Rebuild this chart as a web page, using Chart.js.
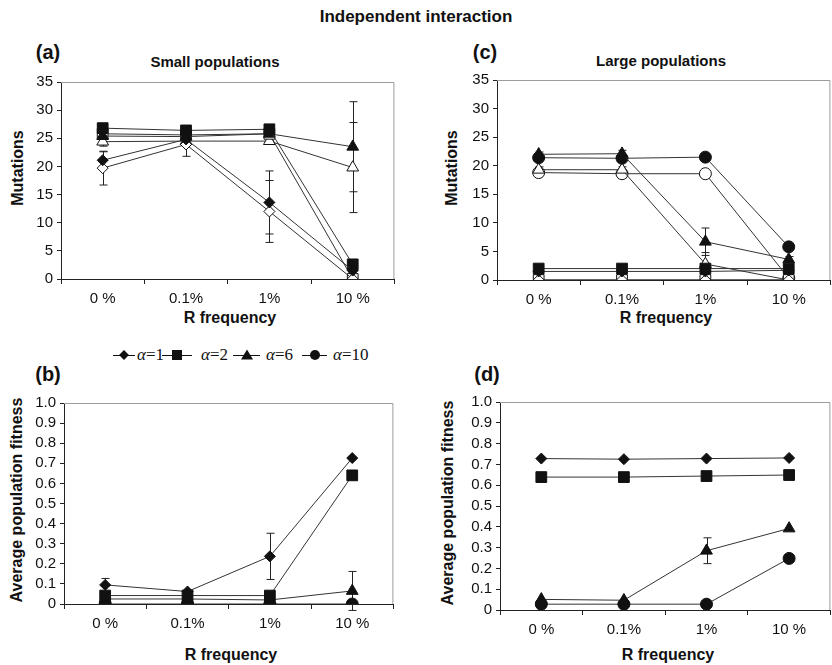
<!DOCTYPE html>
<html>
<head>
<meta charset="utf-8">
<script src="https://cdn.jsdelivr.net/npm/chart.js@4.4.1/dist/chart.umd.min.js"></script>
<style>
body{margin:0;width:832px;height:665px;overflow:hidden;background:#fff;position:relative;font-family:"Liberation Sans",Arial,sans-serif;color:#111}
canvas{position:absolute}
.t{position:absolute;white-space:nowrap;font-weight:bold;transform:translate(-50%,-50%)}
.v{transform:translate(-50%,-50%) rotate(-90deg)}
.lg{position:absolute;top:346px;height:18px;font:17px "Liberation Serif",serif;white-space:nowrap}
.ln{position:absolute;top:9px;height:1px;background:#111}
.mk{position:absolute;left:50%;top:0;background:#111}
.mk.d{width:7px;height:7px;transform:translate(-50%,-50%) rotate(45deg)}
.mk.s{width:10px;height:10px;transform:translate(-50%,-50%)}
.mk.c{width:10px;height:10px;border-radius:50%;transform:translate(-50%,-50%)}
.mk.tr{width:0;height:0;background:none;border-left:6px solid transparent;border-right:6px solid transparent;border-bottom:10px solid #111;transform:translate(-50%,-55%)}
.lt{position:absolute;top:0;line-height:18px}
</style>
</head>
<body>
<div class="t" style="left:416px;top:17px;font-size:17px">Independent interaction</div>

<div class="t" style="left:48px;top:52px;font-size:20px">(a)</div>
<div class="t" style="left:485px;top:52px;font-size:20px">(c)</div>
<div class="t" style="left:48px;top:374px;font-size:20px">(b)</div>
<div class="t" style="left:487px;top:374px;font-size:20px">(d)</div>

<div class="t" style="left:215px;top:61px;font-size:15px">Small populations</div>
<div class="t" style="left:661px;top:60px;font-size:15px">Large populations</div>

<div class="t v" style="left:18px;top:168px;font-size:16px">Mutations</div>
<div class="t v" style="left:452px;top:168px;font-size:16px">Mutations</div>
<div class="t v" style="left:17px;top:500px;font-size:16px">Average population fitness</div>
<div class="t v" style="left:448px;top:503px;font-size:16px">Average population fitness</div>

<div class="t" style="left:230px;top:318px;font-size:16px">R frequency</div>
<div class="t" style="left:666px;top:318px;font-size:16px">R frequency</div>
<div class="t" style="left:231px;top:655px;font-size:16px">R frequency</div>
<div class="t" style="left:668px;top:655px;font-size:16px">R frequency</div>

<canvas id="chartA"></canvas>
<canvas id="chartC"></canvas>
<canvas id="chartB"></canvas>
<canvas id="chartD"></canvas>

<script>
// категории по оси X
const categories = ['0 %', '0.1%', '1%', '10 %'];
const alphaLabels = ['α=1', 'α=2', 'α=6', 'α=10'];

// (a) малые популяции, число мутаций (закрашенные и пустые маркеры)
const smallMutA1 = [21.1, 24.8, 13.6, 1.5];
const smallMutA1Err = [1.5, 0.8, 5.6, 0];
const smallMutA1Open = [19.7, 23.9, 12.0, 0];
const smallMutA1OpenErr = [3.0, 2.1, 5.5, 0];
const smallMutA2 = [26.8, 26.4, 26.6, 2.6];
const smallMutA2Open = [25.8, 25.6, 25.8, 0];
const smallMutA6 = [25.4, 25.3, 25.8, 23.5];
const smallMutA6Err = [0.6, 0.5, 0.5, 8.0];
const smallMutA6Open = [24.4, 24.5, 24.5, 19.8];
const smallMutA6OpenErr = [0.8, 0.6, 0.6, 8.0];

// (c) большие популяции, число мутаций
const largeMutA1 = [1.5, 1.5, 1.5, 1.7];
const largeMutA1Open = [0, 0, 0, 0];
const largeMutA2 = [2.0, 2.0, 2.0, 2.0];
const largeMutA2Open = [0, 0, 0, 0];
const largeMutA6 = [22.0, 22.1, 6.7, 3.6];
const largeMutA6Err = [0.4, 0.6, 2.4, 0.5];
const largeMutA6Open = [19.3, 19.3, 2.8, 0];
const largeMutA6OpenErr = [0.5, 0.5, 2.0, 0];
const largeMutA10 = [21.4, 21.3, 21.5, 5.8];
const largeMutA10Open = [18.8, 18.6, 18.6, 0.3];
const largeMutA10OpenErr = [0.4, 0.7, 0.5, 0];

// (b) малые популяции, средняя приспособленность
const smallFitA1 = [0.095, 0.062, 0.237, 0.726];
const smallFitA1Err = [0.032, 0.005, 0.115, 0];
const smallFitA2 = [0.042, 0.042, 0.042, 0.64];
const smallFitA6 = [0.025, 0.025, 0.02, 0.065];
const smallFitA6Err = [0, 0, 0, 0.097];
const smallFitA10 = [0, 0, 0, 0];

// (d) большие популяции, средняя приспособленность
const largeFitA1 = [0.728, 0.725, 0.728, 0.731];
const largeFitA2 = [0.639, 0.639, 0.644, 0.649];
const largeFitA6 = [0.051, 0.047, 0.285, 0.392];
const largeFitA6Err = [0, 0, 0.062, 0];
const largeFitA10 = [0.028, 0.028, 0.028, 0.248];

// маркеры для каждого alpha
const shapes = {
    a1: { style: 'rectRot', r: 5.5 },
    a2: { style: 'rect', r: 7.6 },
    a6: { style: 'triangle', r: 6.8 },
    a10: { style: 'circle', r: 6 }
};

function series(data, shape, filled, errors) {
    return {
        data: data,
        errors: errors,
        fill: false,
        tension: 0,
        borderColor: '#333',
        borderWidth: 1,
        pointStyle: shape.style,
        pointRadius: shape.r,
        pointBackgroundColor: filled ? '#111' : '#fff',
        pointBorderColor: '#111',
        pointBorderWidth: 1
    };
}

// серая рамка сверху и справа
const framePlugin = {
    id: 'frame',
    beforeDatasetsDraw(chart) {
        const a = chart.chartArea, ctx = chart.ctx;
        ctx.save();
        ctx.strokeStyle = '#9c9c9c';
        ctx.lineWidth = 1;
        ctx.beginPath();
        ctx.moveTo(a.left, a.top + 0.5);
        ctx.lineTo(a.right - 0.5, a.top + 0.5);
        ctx.lineTo(a.right - 0.5, a.bottom);
        ctx.stroke();
        ctx.restore();
    }
};

// планки погрешностей
const errorBarPlugin = {
    id: 'errorBars',
    beforeDatasetsDraw(chart) {
        const ctx = chart.ctx, ys = chart.scales.y;
        ctx.save();
        ctx.strokeStyle = '#222';
        ctx.lineWidth = 1;
        chart.data.datasets.forEach((ds, i) => {
            if (!ds.errors) return;
            const meta = chart.getDatasetMeta(i);
            ds.errors.forEach((e, j) => {
                if (!e) return;
                const x = Math.round(meta.data[j].x) + 0.5;
                const top = ys.getPixelForValue(ds.data[j] + e);
                const bot = ys.getPixelForValue(ds.data[j] - e);
                ctx.beginPath();
                ctx.moveTo(x, top); ctx.lineTo(x, bot);
                ctx.moveTo(x - 4, top); ctx.lineTo(x + 4, top);
                ctx.moveTo(x - 4, bot); ctx.lineTo(x + 4, bot);
                ctx.stroke();
            });
        });
        ctx.restore();
    }
};

function makeChart(id, box, yMax, yStep, datasets) {
    const Yw = 61, Xh = 45, padT = 10, padR = 4;
    const cv = document.getElementById(id);
    cv.width = box.r - box.l + Yw + padR;
    cv.height = box.b - box.t + padT + Xh;
    cv.style.left = (box.l - Yw) + 'px';
    cv.style.top = (box.t - padT) + 'px';
    return new Chart(cv.getContext('2d'), {
        type: 'line',
        data: { labels: categories, datasets: datasets },
        plugins: [framePlugin, errorBarPlugin],
        options: {
            responsive: false,
            animation: false,
            layout: { padding: { top: padT, right: padR, left: 0, bottom: 0 } },
            plugins: { legend: { display: false }, tooltip: { enabled: false } },
            scales: {
                x: {
                    offset: true,
                    grid: { offset: true, drawOnChartArea: false, tickLength: 5, tickColor: '#222' },
                    border: { color: '#222' },
                    ticks: { color: '#111', padding: 6, font: { family: '"Liberation Sans", Arial, sans-serif', size: 15 } },
                    afterFit: (s) => { s.height = Xh; }
                },
                y: {
                    min: 0,
                    max: yMax,
                    grid: { drawOnChartArea: false, tickLength: 4, tickColor: '#222' },
                    border: { color: '#222' },
                    ticks: { stepSize: yStep, autoSkip: false, color: '#111', padding: 4, font: { family: '"Liberation Sans", Arial, sans-serif', size: 15 } },
                    afterFit: (s) => { s.width = Yw; }
                }
            }
        }
    });
}

makeChart('chartA', { l: 61, r: 399, t: 79, b: 279 }, 35, 5, [
    series(smallMutA1, shapes.a1, true, smallMutA1Err),
    series(smallMutA2, shapes.a2, true),
    series(smallMutA6, shapes.a6, true, smallMutA6Err),
    series(smallMutA1Open, shapes.a1, false, smallMutA1OpenErr),
    series(smallMutA2Open, shapes.a2, false),
    series(smallMutA6Open, shapes.a6, false, smallMutA6OpenErr)
]);

makeChart('chartC', { l: 497, r: 835, t: 77, b: 280 }, 35, 5, [
    series(largeMutA1, shapes.a1, true),
    series(largeMutA2, shapes.a2, true),
    series(largeMutA6, shapes.a6, true, largeMutA6Err),
    series(largeMutA10, shapes.a10, true),
    series(largeMutA1Open, shapes.a1, false),
    series(largeMutA2Open, shapes.a2, false),
    series(largeMutA6Open, shapes.a6, false, largeMutA6OpenErr),
    series(largeMutA10Open, shapes.a10, false, largeMutA10OpenErr)
]);

makeChart('chartB', { l: 64, r: 398, t: 400, b: 604 }, 1, 0.1, [
    series(smallFitA1, shapes.a1, true, smallFitA1Err),
    series(smallFitA2, shapes.a2, true),
    series(smallFitA6, shapes.a6, true, smallFitA6Err),
    series(smallFitA10, shapes.a10, true)
]);

makeChart('chartD', { l: 500, r: 835, t: 399, b: 610 }, 1, 0.1, [
    series(largeFitA1, shapes.a1, true),
    series(largeFitA2, shapes.a2, true),
    series(largeFitA6, shapes.a6, true, largeFitA6Err),
    series(largeFitA10, shapes.a10, true)
]);

// легенда
const legendShapes = ['d', 's', 'tr', 'c'];
const legendLine = [[113, 22], [162, 30], [233, 27], [302, 25]];
const legendText = [137, 201, 266, 333];
alphaLabels.forEach((lab, i) => {
    const d = document.createElement('div');
    d.className = 'lg';
    d.style.left = '0px';
    const parts = lab.split('=');
    d.innerHTML =
        '<span class="ln" style="left:' + legendLine[i][0] + 'px;width:' + legendLine[i][1] + 'px">' +
        '<i class="mk ' + legendShapes[i] + '"></i></span>' +
        '<span class="lt" style="left:' + legendText[i] + 'px"><em>' + parts[0] + '</em>=' + parts[1] + '</span>';
    document.body.appendChild(d);
});
</script>
</body>
</html>
